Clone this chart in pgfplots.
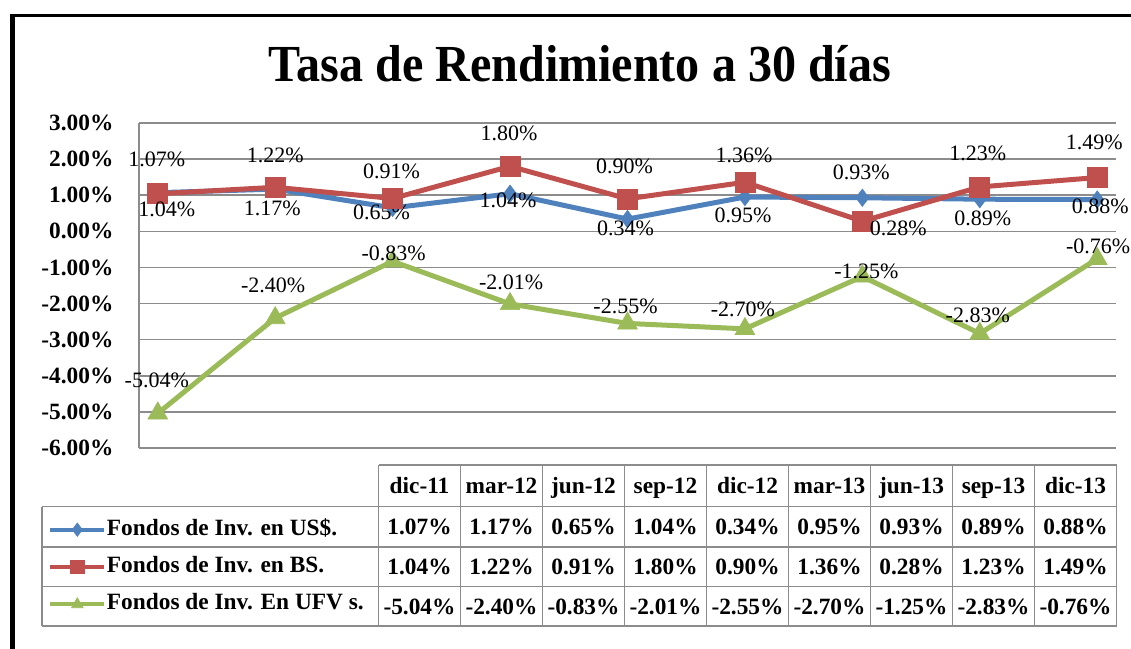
\documentclass[border=0pt]{standalone}
\usepackage{pgfplots}
\pgfplotsset{compat=1.18}
\usepackage{pgfplotstable}
\usepackage{fontspec}
\setmainfont{Liberation Serif}
\definecolor{cblue}{HTML}{4F81BD}
\definecolor{cred}{HTML}{C0504D}
\definecolor{cgreen}{HTML}{9BBB59}
\definecolor{cgrid}{HTML}{8C8C8C}

\pgfplotstableread{
x y dx dy
0 1.07 -1 -33
1 1.17 -3 19
2 0.65 -11 4
3 1.04 -2 7
4 0.34 -2 9
5 0.95 -2 18
6 0.93 -1 -25
7 0.89 3 19
8 0.88 3 7
}\usd
\pgfplotstableread{
x y dx dy
0 1.04 9 16
1 1.22 0 -32
2 0.91 -1 -27
3 1.80 -1 -33
4 0.90 -3 -32
5 1.36 -1 -27
6 0.28 36 7
7 1.23 -2 -34
8 1.49 -3 -35
}\bs
\pgfplotstableread{
x y dx dy
0 -5.04 -1 -33
1 -2.40 -2 -33
2 -0.83 1 -8
3 -2.01 1 -22
4 -2.55 -2 -17
5 -2.70 -2 -19
6 -1.25 4 -5
7 -2.83 -2 -18
8 -0.76 1 -12
}\ufv

\newcommand{\tabfont}{\fontsize{17.5}{20}\selectfont\bfseries}

\begin{document}
\begin{tikzpicture}
\path[use as bounding box] (0,0) rectangle (848.25pt,-486.75pt);
\begin{axis}[
  at={(104.25pt,-336pt)}, anchor=south west,
  scale only axis, width=732.75pt, height=243.75pt,
  xmin=-0.16, xmax=8.16, ymin=-6, ymax=3,
  xtick=\empty,
  ytick={-6,-5,-4,-3,-2,-1,0,1,2,3},
  yticklabels={-6.00\%,-5.00\%,-4.00\%,-3.00\%,-2.00\%,-1.00\%,0.00\%,1.00\%,2.00\%,3.00\%},
  yticklabel style={font=\tabfont, anchor=east, inner sep=0pt, xshift=-19pt},
  major tick length=0pt,
  ymajorgrids, major grid style={cgrid, line width=1.2pt},
  axis x line*=bottom, axis y line*=left,
  axis line style={-, cgrid, line width=1.2pt},
  clip=false,
  point meta=explicit symbolic,
  nodes near coords={\pgfplotspointmeta\%},
  visualization depends on={\thisrow{dx} \as \labdx},
  visualization depends on={\thisrow{dy} \as \labdy},
  every node near coord/.append style={font=\fontsize{16.5}{19}\selectfont, text=black, anchor=center, xshift=0.75pt*(\labdx), yshift=0.75pt*(0-(\labdy))},
  legend style={at={(-0.0931,-0.2095)}, anchor=north west, draw=none, fill=none, inner sep=0pt, row sep=8pt, column sep=0pt, font=\tabfont, nodes={inner xsep=0.5pt, inner ysep=2pt, text height=12pt, text depth=4pt}},
  legend cell align=left,
  legend image code/.code={\draw[mark repeat=2,mark phase=2,#1,mark size=5pt,line width=3pt] plot coordinates {(0pt,0pt) (20.25pt,0pt) (40.5pt,0pt)};},
]
\addplot[cblue, line width=3.75pt, mark=diamond*, mark size=6.5pt, mark options={solid, fill=cblue, draw=cblue, line width=0.5pt}] table[x=x,y=y,meta=y]{\usd};
\addlegendentry{Fondos de Inv. en US\$.}
\addplot[cred, line width=3.75pt, mark=square*, mark size=7.5pt, mark options={solid, fill=cred, draw=cred, line width=0.5pt}] table[x=x,y=y,meta=y]{\bs};
\addlegendentry{Fondos de Inv. en BS.}
\addplot[cgreen, line width=3.75pt, mark=triangle*, mark size=8.5pt, mark options={solid, fill=cgreen, draw=cgreen, line width=0.5pt}] table[x=x,y=y,meta=y]{\ufv};
\addlegendentry{Fondos de Inv. En UFV s.}
\end{axis}
\begin{scope}[x=0.75pt, y=-0.75pt]
  % outer frame
  \draw[black, line width=3.75pt] (12,14) -- (12,660);
  \draw[black, line width=2.6pt] (10,15.5) -- (1140,15.5);
  % title
  \node[anchor=base, font=\fontsize{39}{44}\selectfont\bfseries, inner sep=0pt] at (580,82) {\scalebox{0.925}[1]{Tasa de Rendimiento a 30 días}};
  % data table
  \begin{scope}[cgrid, line width=1.3pt]
    \foreach \i in {0,...,9} \draw (378.5+82*\i,465) -- (378.5+82*\i,626);
    \draw (378.5,465) -- (1116.5,465);
    \foreach \yy in {506.5,547,586.5,626} \draw (42,\yy) -- (1116.5,\yy);
    \draw (42,506.5) -- (42,626);
  \end{scope}
  \foreach \lab [count=\i from 0] in {dic-11,mar-12,jun-12,sep-12,dic-12,mar-13,jun-13,sep-13,dic-13}
    \node[anchor=base, font=\tabfont, inner sep=0pt] at (419.5+82*\i,493.5) {\lab};
  \foreach \lab [count=\i from 0] in {1.07,1.17,0.65,1.04,0.34,0.95,0.93,0.89,0.88}
    \node[anchor=base, font=\tabfont, inner sep=0pt] at (419.5+82*\i,534.5) {\lab\%};
  \foreach \lab [count=\i from 0] in {1.04,1.22,0.91,1.80,0.90,1.36,0.28,1.23,1.49}
    \node[anchor=base, font=\tabfont, inner sep=0pt] at (419.5+82*\i,574.5) {\lab\%};
  \foreach \lab [count=\i from 0] in {-5.04,-2.40,-0.83,-2.01,-2.55,-2.70,-1.25,-2.83,-0.76}
    \node[anchor=base, font=\tabfont, inner sep=0pt] at (419.5+82*\i,614) {\lab\%};
\end{scope}
\end{tikzpicture}
\end{document}
